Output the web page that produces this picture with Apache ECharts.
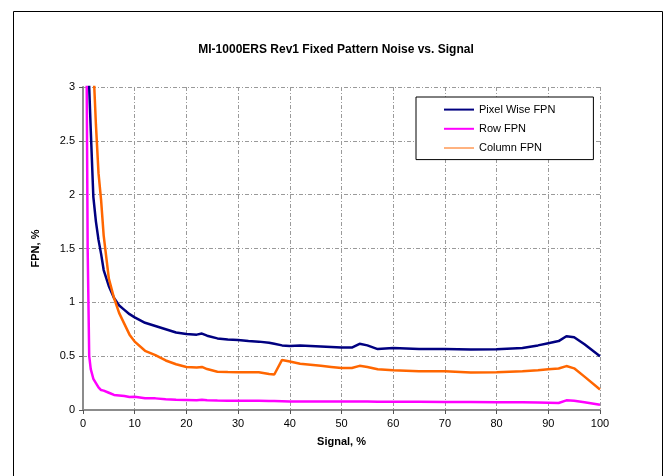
<!DOCTYPE html>
<html>
<head>
<meta charset="utf-8">
<script src="https://cdn.jsdelivr.net/npm/echarts@6/dist/echarts.min.js"></script>
<style>
  html, body { margin: 0; padding: 0; background: #fff; }
  #chart { width: 672px; height: 476px; }
</style>
</head>
<body>
<div id="chart"></div>
<script>
// signal, %
var signal = [0.7, 0.9, 1.2, 1.5, 2, 2.5, 3, 3.5, 4, 5, 6, 7, 8, 9, 10, 12, 14, 16, 18, 20,
  22, 23, 24, 26, 28, 30, 32, 34, 36, 37, 38.5, 40, 42, 44, 46, 48, 50, 52, 53.5, 55,
  57, 60, 65, 70, 75, 80, 85, 88, 90, 92, 93.5, 95, 97, 100];

var pixelWiseFpn = [4.6, 3.8, 3.0, 2.6, 1.98, 1.75, 1.58, 1.45, 1.3, 1.15, 1.04, 0.97, 0.93, 0.89, 0.86, 0.81, 0.78, 0.75, 0.72, 0.705,
  0.70, 0.71, 0.69, 0.665, 0.655, 0.65, 0.64, 0.635, 0.625, 0.615, 0.60, 0.594, 0.60, 0.595, 0.59, 0.585, 0.58, 0.58, 0.615, 0.60,
  0.566, 0.575, 0.567, 0.566, 0.563, 0.565, 0.575, 0.60, 0.62, 0.64, 0.685, 0.675, 0.61, 0.50];

var rowFpn = [3.2, 1.5, 0.5, 0.38, 0.29, 0.25, 0.21, 0.185, 0.18, 0.16, 0.14, 0.135, 0.13, 0.12, 0.124, 0.11, 0.108, 0.10, 0.095, 0.093,
  0.09, 0.095, 0.09, 0.088, 0.087, 0.087, 0.086, 0.085, 0.084, 0.084, 0.082, 0.08, 0.08, 0.079, 0.08, 0.078, 0.08, 0.078, 0.08, 0.079,
  0.077, 0.077, 0.076, 0.075, 0.074, 0.072, 0.072, 0.07, 0.068, 0.065, 0.09, 0.085, 0.072, 0.048];

var columnFpn = [6.0, 5.4, 4.6, 4.0, 3.2, 2.65, 2.2, 1.95, 1.62, 1.22, 1.04, 0.90, 0.80, 0.70, 0.635, 0.55, 0.51, 0.46, 0.425, 0.40,
  0.395, 0.40, 0.38, 0.356, 0.352, 0.35, 0.35, 0.35, 0.335, 0.33, 0.465, 0.45, 0.43, 0.42, 0.41, 0.40, 0.39, 0.39, 0.41, 0.40,
  0.378, 0.37, 0.36, 0.36, 0.348, 0.35, 0.36, 0.37, 0.378, 0.385, 0.408, 0.387, 0.31, 0.19];

var seriesNames = ['Pixel Wise FPN', 'Row FPN', 'Column FPN'];
var seriesColors = ['#000080', '#FF00FF', '#FF6600'];

function pairs(ys) {
    var out = [];
    for (var i = 0; i < signal.length; i++) {
        out.push([signal[i], ys[i]]);
    }
    return out;
}

var myChart = echarts.init(document.getElementById('chart'));
var font = 'Liberation Sans, Arial, sans-serif';
var gridLine = { show: true, lineStyle: { color: '#9a9a9a', type: [4, 2, 1, 2], width: 1 } };

var option = {
    animation: false,
    textStyle: { fontFamily: font },
    title: {
        text: 'MI-1000ERS Rev1 Fixed Pattern Noise vs. Signal',
        left: 'center',
        top: 39,
        textStyle: { fontSize: 12, fontWeight: 'bold', color: '#000', fontFamily: font }
    },
    grid: { left: 83, right: 72, top: 87, bottom: 66 },
    legend: {
        orient: 'vertical',
        left: 416,
        top: 97,
        padding: [7, 38, 6, 27],
        itemGap: 8,
        itemWidth: 30,
        itemHeight: 14,
        backgroundColor: '#fff',
        borderColor: '#000',
        borderWidth: 1,
        itemStyle: { opacity: 0 },
        textStyle: { fontSize: 11, color: '#000', fontFamily: font },
        data: [
            { name: seriesNames[0] },
            { name: seriesNames[1] },
            { name: seriesNames[2], lineStyle: { width: 1 } }
        ]
    },
    xAxis: [{
        type: 'value',
        min: 0,
        max: 100,
        interval: 10,
        name: 'Signal, %',
        nameLocation: 'middle',
        nameGap: 26,
        nameTextStyle: { fontSize: 11, fontWeight: 'bold', color: '#000' },
        axisLine: { show: false },
        axisTick: { show: true, length: 4, lineStyle: { color: '#555' } },
        axisLabel: { fontSize: 11, color: '#000', margin: 8 },
        splitLine: gridLine
    }, {
        type: 'value',
        position: 'top',
        min: 0,
        max: 100,
        axisLine: { show: true, lineStyle: { color: '#8c8c8c', width: 2 } },
        axisTick: { show: false },
        axisLabel: { show: false },
        splitLine: { show: false }
    }],
    yAxis: [{
        type: 'value',
        min: 0,
        max: 3,
        interval: 0.5,
        name: 'FPN, %',
        nameLocation: 'middle',
        nameGap: 42,
        nameTextStyle: { fontSize: 11, fontWeight: 'bold', color: '#000' },
        axisLine: { show: true, lineStyle: { color: '#666', width: 1 } },
        axisTick: { show: true, length: 4, lineStyle: { color: '#555' } },
        axisLabel: { fontSize: 11, color: '#000', margin: 8 },
        splitLine: gridLine
    }, {
        type: 'value',
        position: 'right',
        min: 0,
        max: 3,
        axisLine: { show: true, lineStyle: { color: '#8c8c8c', width: 2 } },
        axisTick: { show: false },
        axisLabel: { show: false },
        splitLine: { show: false }
    }],
    graphic: [{
        type: 'rect',
        shape: { x: 13.5, y: 11.5, width: 649, height: 480 },
        style: { fill: 'none', stroke: '#000', lineWidth: 1 },
        silent: true
    }],
    series: [
        { name: seriesNames[0], data: pairs(pixelWiseFpn), color: seriesColors[0] },
        { name: seriesNames[1], data: pairs(rowFpn), color: seriesColors[1] },
        { name: seriesNames[2], data: pairs(columnFpn), color: seriesColors[2] }
    ].map(function (s) {
        return {
            name: s.name,
            type: 'line',
            data: s.data,
            symbol: 'none',
            clip: true,
            itemStyle: { color: s.color },
            lineStyle: { color: s.color, width: 2.5 }
        };
    })
};

myChart.setOption(option);
</script>
</body>
</html>
